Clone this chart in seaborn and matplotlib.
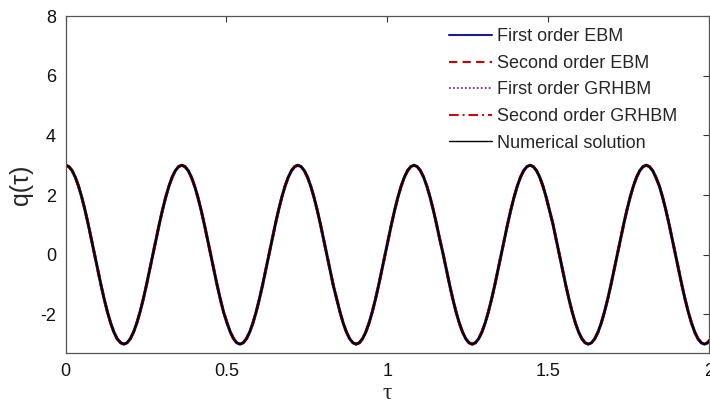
import matplotlib
matplotlib.use("Agg")
import matplotlib.pyplot as plt
import seaborn as sns
import pandas as pd

# sample positions along tau
tau = [
    0.000, 0.010, 0.020, 0.030, 0.040, 0.050, 0.060, 0.070, 0.080, 0.090,
    0.100, 0.110, 0.120, 0.130, 0.140, 0.150, 0.160, 0.171, 0.181, 0.191,
    0.201, 0.211, 0.221, 0.231, 0.241, 0.251, 0.261, 0.271, 0.281, 0.291,
    0.301, 0.311, 0.321, 0.331, 0.341, 0.351, 0.361, 0.371, 0.381, 0.391,
    0.401, 0.411, 0.421, 0.431, 0.441, 0.451, 0.461, 0.471, 0.481, 0.491,
    0.502, 0.512, 0.522, 0.532, 0.542, 0.552, 0.562, 0.572, 0.582, 0.592,
    0.602, 0.612, 0.622, 0.632, 0.642, 0.652, 0.662, 0.672, 0.682, 0.692,
    0.702, 0.712, 0.722, 0.732, 0.742, 0.752, 0.762, 0.772, 0.782, 0.792,
    0.802, 0.812, 0.822, 0.832, 0.843, 0.853, 0.863, 0.873, 0.883, 0.893,
    0.903, 0.913, 0.923, 0.933, 0.943, 0.953, 0.963, 0.973, 0.983, 0.993,
    1.003, 1.013, 1.023, 1.033, 1.043, 1.053, 1.063, 1.073, 1.083, 1.093,
    1.103, 1.113, 1.123, 1.133, 1.143, 1.153, 1.163, 1.174, 1.184, 1.194,
    1.204, 1.214, 1.224, 1.234, 1.244, 1.254, 1.264, 1.274, 1.284, 1.294,
    1.304, 1.314, 1.324, 1.334, 1.344, 1.354, 1.364, 1.374, 1.384, 1.394,
    1.404, 1.414, 1.424, 1.434, 1.444, 1.454, 1.464, 1.474, 1.484, 1.494,
    1.504, 1.515, 1.525, 1.535, 1.545, 1.555, 1.565, 1.575, 1.585, 1.595,
    1.605, 1.615, 1.625, 1.635, 1.645, 1.655, 1.665, 1.675, 1.685, 1.695,
    1.705, 1.715, 1.725, 1.735, 1.745, 1.755, 1.765, 1.775, 1.785, 1.795,
    1.805, 1.815, 1.825, 1.835, 1.846, 1.856, 1.866, 1.876, 1.886, 1.896,
    1.906, 1.916, 1.926, 1.936, 1.946, 1.956, 1.966, 1.976, 1.986, 1.996,
    2.006,
]

# q(tau)
q_numerical = [
    3.000, 2.954, 2.819, 2.598, 2.298, 1.928, 1.500, 1.026, 0.521, 0.000,
    -0.521, -1.026, -1.500, -1.928, -2.298, -2.598, -2.819, -2.954, -3.000, -2.954,
    -2.819, -2.598, -2.298, -1.928, -1.500, -1.026, -0.521, 0.000, 0.521, 1.026,
    1.500, 1.928, 2.298, 2.598, 2.819, 2.954,
    3.000, 2.954, 2.819, 2.598, 2.298, 1.928, 1.500, 1.026, 0.521, 0.000,
    -0.521, -1.026, -1.500, -1.928, -2.298, -2.598, -2.819, -2.954, -3.000, -2.954,
    -2.819, -2.598, -2.298, -1.928, -1.500, -1.026, -0.521, 0.000, 0.521, 1.026,
    1.500, 1.928, 2.298, 2.598, 2.819, 2.954,
    3.000, 2.954, 2.819, 2.598, 2.298, 1.928, 1.500, 1.026, 0.521, 0.000,
    -0.521, -1.026, -1.500, -1.928, -2.298, -2.598, -2.819, -2.954, -3.000, -2.954,
    -2.819, -2.598, -2.298, -1.928, -1.500, -1.026, -0.521, 0.000, 0.521, 1.026,
    1.500, 1.928, 2.298, 2.598, 2.819, 2.954,
    3.000, 2.954, 2.819, 2.598, 2.298, 1.928, 1.500, 1.026, 0.521, 0.000,
    -0.521, -1.026, -1.500, -1.928, -2.298, -2.598, -2.819, -2.954, -3.000, -2.954,
    -2.819, -2.598, -2.298, -1.928, -1.500, -1.026, -0.521, 0.000, 0.521, 1.026,
    1.500, 1.928, 2.298, 2.598, 2.819, 2.954,
    3.000, 2.954, 2.819, 2.598, 2.298, 1.928, 1.500, 1.026, 0.521, 0.000,
    -0.521, -1.026, -1.500, -1.928, -2.298, -2.598, -2.819, -2.954, -3.000, -2.954,
    -2.819, -2.598, -2.298, -1.928, -1.500, -1.026, -0.521, 0.000, 0.521, 1.026,
    1.500, 1.928, 2.298, 2.598, 2.819, 2.954,
    3.000, 2.954, 2.819, 2.598, 2.298, 1.928, 1.500, 1.026, 0.521, 0.000,
    -0.521, -1.026, -1.500, -1.928, -2.298, -2.598, -2.819, -2.954, -3.000, -2.954,
    -2.819,
]

# approximate solutions coincide with the numerical one at this resolution
q_first_ebm = list(q_numerical)
q_second_ebm = list(q_numerical)
q_first_grhbm = list(q_numerical)
q_second_grhbm = list(q_numerical)

series_names = ["First order EBM", "Second order EBM", "First order GRHBM",
                "Second order GRHBM", "Numerical solution"]
series_values = [q_first_ebm, q_second_ebm, q_first_grhbm, q_second_grhbm, q_numerical]

x_ticks = [0, 0.5, 1, 1.5, 2]
x_tick_labels = ["0", "0.5", "1", "1.5", "2"]
y_ticks = [-2, 0, 2, 4, 6, 8]
y_tick_labels = ["-2", "0", "2", "4", "6", "8"]

styles = {
    "First order EBM": dict(color="#1a1a9c", linestyle="-", linewidth=2.2),
    "Second order EBM": dict(color="#d40000", linestyle=(0, (4, 2.5)), linewidth=2.0),
    "First order GRHBM": dict(color="#8a2a8a", linestyle=(0, (1, 1.2)), linewidth=1.6),
    "Second order GRHBM": dict(color="#d40000", linestyle=(0, (5, 2, 1, 2)), linewidth=1.6),
    "Numerical solution": dict(color="#000000", linestyle="-", linewidth=1.5),
}
legend_widths = {
    "First order EBM": 1.5, "Second order EBM": 1.5, "First order GRHBM": 1.3,
    "Second order GRHBM": 1.4, "Numerical solution": 1.0,
}

sns.set_theme(style="white")
plt.rcParams["font.family"] = ["Liberation Sans", "DejaVu Sans"]

fig = plt.figure(figsize=(7.10, 4.04), dpi=100)
ax = fig.add_axes([0.0925, 0.126, 0.906, 0.834])

for name, vals in zip(series_names, series_values):
    df = pd.DataFrame({"tau": tau, "q": vals})
    sns.lineplot(data=df, x="tau", y="q", ax=ax, sort=False, estimator=None,
                 label=name, **styles[name])

ax.set_xlim(0, 2)
ax.set_ylim(-3.3, 8)
ax.set_xticks(x_ticks)
ax.set_xticklabels(x_tick_labels)
ax.set_yticks(y_ticks)
ax.set_yticklabels(y_tick_labels)
ax.tick_params(axis="both", which="both", direction="in", length=4, width=0.8,
               colors="#333333", labelcolor="#111111", labelsize=13,
               top=True, right=True, pad=7)
for sp in ax.spines.values():
    sp.set_visible(True)
    sp.set_color("#555555")
    sp.set_linewidth(0.9)

ax.set_xlabel("τ", fontsize=17, family=["Liberation Serif", "DejaVu Serif"], labelpad=2)
ax.set_ylabel("q(τ)", fontsize=18, labelpad=5)

leg = ax.legend(loc="upper left", bbox_to_anchor=(0.632, 0.930),
                bbox_transform=fig.transFigure, frameon=False, fontsize=13,
                handlelength=2.4, handletextpad=0.3, labelspacing=0.53,
                borderpad=0, borderaxespad=0)
for h, name in zip(leg.get_lines(), series_names):
    h.set_linewidth(legend_widths[name])

fig.savefig("out.png", dpi=100)
